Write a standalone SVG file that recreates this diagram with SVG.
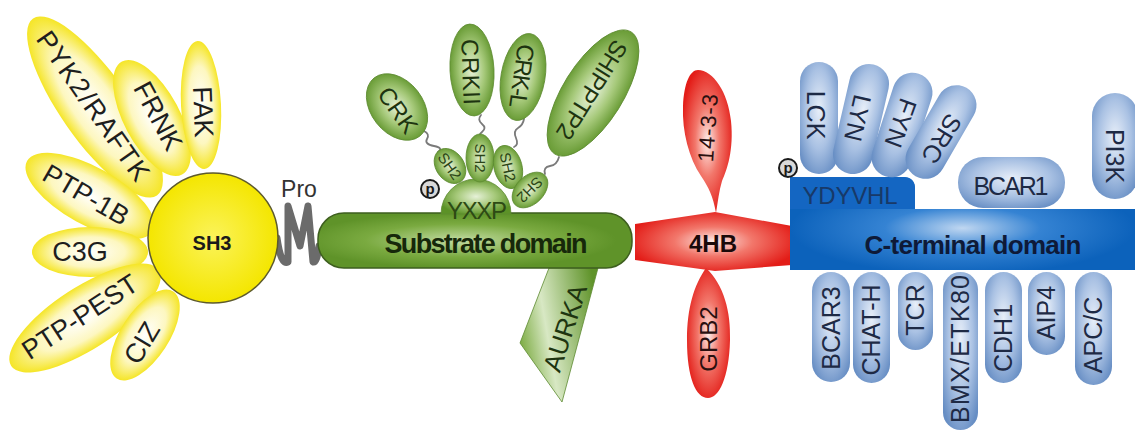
<svg xmlns="http://www.w3.org/2000/svg" width="1135" height="432" viewBox="0 0 1135 432">
<defs>
<radialGradient id="yg" cx="0.5" cy="0.5" r="0.55"><stop offset="0" stop-color="#ffffff"/><stop offset="0.55" stop-color="#fdf7c0"/><stop offset="1" stop-color="#f3e100"/></radialGradient>
<radialGradient id="sh3g" cx="0.5" cy="0.5" r="0.5"><stop offset="0" stop-color="#fbf35a"/><stop offset="1" stop-color="#f4e600"/></radialGradient>
<radialGradient id="gg" cx="0.5" cy="0.5" r="0.55"><stop offset="0" stop-color="#e6f1d8"/><stop offset="0.5" stop-color="#a6c97a"/><stop offset="1" stop-color="#5c9227"/></radialGradient>
<radialGradient id="gbar" cx="0.45" cy="0.5" r="0.5"><stop offset="0" stop-color="#c2dca2"/><stop offset="0.6" stop-color="#7aaa40"/><stop offset="1" stop-color="#5f9329"/></radialGradient>
<linearGradient id="gaur" x1="0" y1="0.6" x2="1" y2="0.3"><stop offset="0" stop-color="#7aaa40"/><stop offset="0.35" stop-color="#d8e8c4"/><stop offset="1" stop-color="#5f9329"/></linearGradient>
<radialGradient id="rg" cx="0.5" cy="0.5" r="0.55"><stop offset="0" stop-color="#fdeeea"/><stop offset="0.45" stop-color="#f2776b"/><stop offset="1" stop-color="#e31d18"/></radialGradient>
<radialGradient id="bp" cx="0.5" cy="0.42" r="0.65"><stop offset="0" stop-color="#e8eff9"/><stop offset="0.55" stop-color="#a9c1e3"/><stop offset="1" stop-color="#678ec4"/></radialGradient>
<radialGradient id="bbar" cx="0.5" cy="0.55" r="0.5"><stop offset="0" stop-color="#c0d7f1"/><stop offset="0.45" stop-color="#3583d3"/><stop offset="1" stop-color="#0c62bb"/></radialGradient>
</defs>
<style>
.y{fill:url(#yg)}
.g{fill:url(#gg);stroke:#5d8a31;stroke-width:0.8}
.r{fill:url(#rg)}
.bp{fill:url(#bp)}
text{font-family:"Liberation Sans",Arial,sans-serif;text-anchor:middle;dominant-baseline:central}
.ty{font-size:27px;fill:#1e1e1e}
.tg{font-size:24px;fill:#1e3410}
.ts{font-size:15px;fill:#2a4416}
.tr{font-size:24px;fill:#2a1010}
.tb{font-size:25px;fill:#1e2a45}
.pc{fill:#d9d9d9;stroke:#1a1a1a;stroke-width:2}
.pt{font-size:15px;font-weight:bold;fill:#1a1a1a}
.wire{fill:none;stroke:#7a7a7a;stroke-width:1.8;stroke-linecap:round}
</style>

<g id="connectors">
<path class="wire" d="M424,131 q6,3 3,8 t7,7 4,6"/>
<path class="wire" d="M481,115 q-4,5 1,9 t0,8 0,5"/>
<path class="wire" d="M524,119 q-1,6 -6,9 t-2,10 -2,9"/>
<path class="wire" d="M559,157 q-2,8 -9,9 t-5,8"/>
<path d="M277,238 Q281,266 288,262 L288,206 L300,246 L308,206 L313,262 Q317,263 319,246" fill="none" stroke="#6b6b6b" stroke-width="7" stroke-linejoin="round" stroke-linecap="round"/>
</g>

<g id="pyk2"><ellipse class="y" cx="95" cy="107" rx="108" ry="34" transform="rotate(55 95 107)"/><text class="ty" transform="translate(93,106) rotate(55)" textLength="176">PYK2/RAFTK</text></g>
<g id="frnk"><ellipse class="y" cx="152" cy="118" rx="64" ry="28" transform="rotate(62 152 118)"/><text class="ty" transform="translate(158,116) rotate(62)">FRNK</text></g>
<g id="fak"><ellipse class="y" cx="201" cy="105" rx="20" ry="64" transform="rotate(-3 201 105)"/><text class="ty" transform="translate(203,112) rotate(88)">FAK</text></g>
<g id="ptp1b"><ellipse class="y" cx="90" cy="196" rx="72" ry="29" transform="rotate(29 90 196)"/><text class="ty" transform="translate(86,195) rotate(30)">PTP-1B</text></g>
<g id="c3g"><ellipse class="y" cx="90" cy="252" rx="58" ry="25"/><text class="ty" x="80" y="252">C3G</text></g>
<g id="ptppest"><ellipse class="y" cx="85" cy="318" rx="88" ry="31" transform="rotate(-33 85 318)"/><text class="ty" transform="translate(80,317) rotate(-33)">PTP-PEST</text></g>
<g id="ciz"><ellipse class="y" cx="145" cy="335" rx="52" ry="24" transform="rotate(-57 145 335)"/><text class="ty" transform="translate(142,343) rotate(-59)">CIZ</text></g>
<g id="sh3"><circle cx="213" cy="238" r="65" fill="url(#sh3g)" stroke="#5d5a2c" stroke-width="1.5"/><text x="212" y="243" style="font-size:20px;font-weight:bold;fill:#1a1a1a">SH3</text></g>

<g id="pro"><text x="299" y="189" style="font-size:23px;fill:#333">Pro</text></g>

<g id="aurka"><polygon points="549,268 598,268 562,402 520,343" fill="url(#gaur)" stroke="#5d8a31" stroke-width="0.8"/><text class="tg" transform="translate(565,328) rotate(-72)" style="font-size:26px" textLength="90">AURKA</text></g>

<g id="substrate"><rect x="318" y="213" width="314" height="55" rx="26" fill="url(#gbar)" stroke="#3e5f1f" stroke-width="1.5"/><text x="486" y="244" style="font-size:27px;font-weight:bold;fill:#16280a" textLength="203">Substrate domain</text></g>
<g id="yxxp"><path d="M441,214 A35,35 0 0 1 511,214 Z" fill="url(#gg)" stroke="#5d8a31" stroke-width="0.8"/><text x="477" y="210" style="font-size:24px;fill:#2d4a14" textLength="60">YXXP</text></g>
<g id="p1"><circle class="pc" cx="430" cy="189" r="9"/><text class="pt" x="430" y="188">p</text></g>

<g id="crk"><ellipse class="g" cx="397" cy="107" rx="37" ry="26" transform="rotate(52 397 107)"/><text class="tg" transform="translate(398,110) rotate(55)">CRK</text></g>
<g id="crkii"><ellipse class="g" cx="472" cy="70" rx="22" ry="46" transform="rotate(-3 472 70)"/><text class="tg" transform="translate(471,72) rotate(88)" textLength="66">CRKII</text></g>
<g id="crkl"><ellipse class="g" cx="523" cy="77" rx="22" ry="44" transform="rotate(10 523 77)"/><text class="tg" transform="translate(522,76) rotate(98)" textLength="64">CRK-L</text></g>
<g id="shipptp2"><ellipse class="g" cx="593" cy="93" rx="72" ry="30" transform="rotate(122 593 93)"/><text class="tg" transform="translate(592,90) rotate(122)" textLength="112">SHIPPTP2</text></g>
<g id="sh2a"><ellipse class="g" cx="450" cy="166" rx="19" ry="14" transform="rotate(55 450 166)"/><text class="ts" transform="translate(450,166) rotate(55)">SH2</text></g>
<g id="sh2b"><ellipse class="g" cx="480" cy="158" rx="14" ry="24"/><text class="ts" transform="translate(480,158) rotate(90)">SH2</text></g>
<g id="sh2c"><ellipse class="g" cx="508" cy="167" rx="22" ry="14" transform="rotate(75 508 167)"/><text class="ts" transform="translate(508,167) rotate(78)">SH2</text></g>
<g id="sh2d"><ellipse class="g" cx="530" cy="190" rx="21" ry="14" transform="rotate(135 530 190)"/><text class="ts" transform="translate(530,190) rotate(135)">SH2</text></g>

<g id="hb4"><polygon class="r" points="635,224 715,212 792,226 792,265 715,271 635,260"/><text x="713" y="243" style="font-size:24px;font-weight:bold;fill:#1a0a0a">4HB</text></g>
<g id="p1433"><path class="r" d="M716,213 C713,196 709,188 701,176 C689,158 682,132 683,106 C684,83 690,70 698,70 C713,70 728,92 731,121 C734,150 727,170 722,181 C719,191 718,201 716,213 Z"/><text class="tr" transform="translate(708,128) rotate(-86)" style="font-size:22px" textLength="68">14-3-3</text></g>
<g id="grb2"><path class="r" d="M706,268 C724,285 731,312 730,340 C729,378 719,398 708,398 C696,398 687,378 687,340 C687,308 694,285 706,268 Z"/><text class="tr" transform="translate(708,339) rotate(-90)">GRB2</text></g>

<g id="cterm"><path d="M790,177 L903,177 Q915,177 915,189 L915,209 L1135,209 L1135,270 L790,270 Z" fill="url(#bbar)"/><path d="M790,177 L903,177 Q915,177 915,189 L915,209 L790,209 Z" fill="#1466c2"/><text x="973" y="245" style="font-size:26px;font-weight:bold;fill:#0e1a38" textLength="217">C-terminal domain</text><text x="850" y="195" style="font-size:24px;fill:#183968" textLength="95">YDYVHL</text></g>
<g id="p2"><circle class="pc" cx="788" cy="168" r="9"/><text class="pt" x="788" y="167">p</text></g>

<g id="lck"><rect class="bp" x="800" y="62" width="38" height="112" rx="19"/><text class="tb" transform="translate(816,115) rotate(90)">LCK</text></g>
<g id="lyn"><rect class="bp" x="841" y="63" width="40" height="112" rx="20" transform="rotate(13 861 119)"/><text class="tb" transform="translate(858,118) rotate(103)">LYN</text></g>
<g id="fyn"><rect class="bp" x="882" y="71" width="40" height="108" rx="20" transform="rotate(18 902 125)"/><text class="tb" transform="translate(901,123) rotate(110)">FYN</text></g>
<g id="src"><rect class="bp" x="921" y="81" width="40" height="102" rx="20" transform="rotate(30 941 132)"/><text class="tb" transform="translate(942,139) rotate(122)">SRC</text></g>
<g id="bcar1"><rect class="bp" x="958" y="157" width="107" height="51" rx="25"/><text class="tb" x="1011" y="186" textLength="75">BCAR1</text></g>
<g id="pi3k"><rect class="bp" x="1092" y="93" width="46" height="106" rx="23"/><text class="tb" transform="translate(1115,156) rotate(90)">PI3K</text></g>

<g id="bcar3"><rect class="bp" x="812" y="272" width="38" height="110" rx="19"/><text class="tb" transform="translate(831,328) rotate(-90)">BCAR3</text></g>
<g id="chath"><rect class="bp" x="853" y="272" width="37" height="111" rx="18.5"/><text class="tb" transform="translate(871,330) rotate(-90)">CHAT-H</text></g>
<g id="tcr"><rect class="bp" x="898" y="272" width="35" height="78" rx="17.5"/><text class="tb" transform="translate(915,310) rotate(-90)">TCR</text></g>
<g id="bmx"><rect class="bp" x="943" y="272" width="35" height="158" rx="17.5"/><text class="tb" transform="translate(960,349) rotate(-90)" textLength="148">BMX/ETK80</text></g>
<g id="cdh1"><rect class="bp" x="985" y="272" width="37" height="111" rx="18.5"/><text class="tb" transform="translate(1003,338) rotate(-90)">CDH1</text></g>
<g id="aip4"><rect class="bp" x="1028" y="272" width="37" height="83" rx="18.5"/><text class="tb" transform="translate(1046,313) rotate(-90)">AIP4</text></g>
<g id="apcc"><rect class="bp" x="1075" y="272" width="37" height="113" rx="18.5"/><text class="tb" transform="translate(1093,335) rotate(-90)">APC/C</text></g>
</svg>
